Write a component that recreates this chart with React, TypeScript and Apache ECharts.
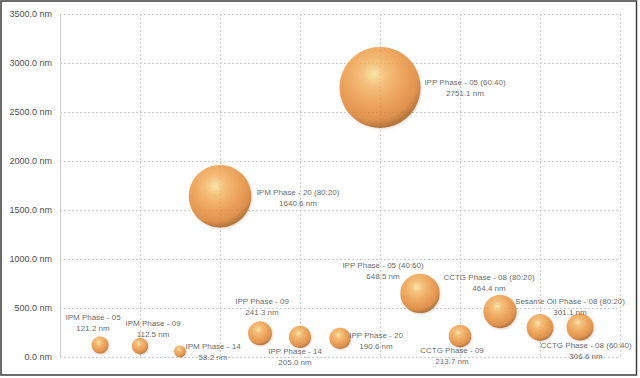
import React, { useEffect, useRef } from "react";
import * as echarts from "echarts";

const names = [
  "IPM Phase - 05",
  "IPM Phase - 09",
  "IPM Phase - 14",
  "IPM Phase - 20 (80:20)",
  "IPP Phase - 09",
  "IPP Phase - 14",
  "IPP Phase - 20",
  "IPP Phase - 05 (60:40)",
  "IPP Phase - 05 (40:60)",
  "CCTG Phase - 09",
  "CCTG Phase - 08 (80:20)",
  "Sesame Oil Phase - 08 (80:20)",
  "CCTG Phase - 08 (60:40)",
];
const xPos = [1, 2, 3, 4, 5, 6, 7, 8, 9, 10, 11, 12, 13];
const sizesNm = [121.2, 112.5, 58.2, 1640.6, 241.3, 205.0, 190.6, 2751.1, 648.5, 213.7, 464.4, 301.1, 306.6];

const yTicks = { min: 0, max: 3500, interval: 500 };
const xTicks = { min: 0, max: 14, interval: 2 };

// label offsets (px) from bubble centre, purely presentational
const labelOffsets: [number, number][] = [
  [-7, -22],
  [13, -17],
  [33, 1],
  [78, 2],
  [2, -26],
  [-5, 20],
  [36, 3],
  [85, 1],
  [-37, -22],
  [-8, 20],
  [-11, -28],
  [30, -20],
  [6, 24],
];

export default function App() {
  const ref = useRef<HTMLDivElement>(null);
  useEffect(() => {
    if (!ref.current) return;
    const chart = echarts.init(ref.current, undefined, { renderer: "svg" });
    const maxV = Math.max(...sizesNm);
    const grad = new echarts.graphic.RadialGradient(0.42, 0.34, 0.66, [
      { offset: 0, color: "#FCE59A" },
      { offset: 0.22, color: "#F6B866" },
      { offset: 0.55, color: "#EE9740" },
      { offset: 0.85, color: "#DC802E" },
      { offset: 1, color: "#A85C1A" },
    ]);
    const data = names.map((n, i) => ({
      name: n,
      value: [xPos[i], sizesNm[i]],
      label: {
        offset: labelOffsets[i],
      },
    }));
    chart.setOption({
      animation: false,
      grid: { left: 60, right: 20, top: 14, bottom: 21, containLabel: false },
      xAxis: {
        type: "value",
        min: xTicks.min,
        max: xTicks.max,
        interval: xTicks.interval,
        axisLabel: { show: false },
        axisTick: { show: false },
        axisLine: { show: false },
        splitLine: { show: true, lineStyle: { color: "#cdcdcd", type: [2, 2], width: 1 } },
      },
      yAxis: {
        type: "value",
        min: yTicks.min,
        max: yTicks.max,
        interval: yTicks.interval,
        axisLine: { show: true, lineStyle: { color: "#cccccc", width: 1 } },
        axisTick: { show: false },
        axisLabel: {
          formatter: (v: number) => v.toFixed(1) + " nm",
          color: "#505050",
          fontSize: 9,
          fontFamily: "Liberation Sans",
          margin: 8,
        },
        splitLine: { show: true, lineStyle: { color: "#cdcdcd", type: [2, 2], width: 1 } },
      },
      series: [
        {
          type: "scatter",
          data,
          symbolSize: (val: number[]) => 81 * Math.sqrt(val[1] / maxV),
          itemStyle: {
            color: grad,
            shadowBlur: 2,
            shadowColor: "rgba(90,50,10,0.25)",
            shadowOffsetX: 1,
            shadowOffsetY: 1,
          },
          label: {
            show: true,
            position: "inside",
            align: "center",
            verticalAlign: "middle",
            formatter: (p: any) => `${p.name}\n${p.value[1].toFixed(1)} nm`,
            fontSize: 8,
            lineHeight: 11,
            color: "#404040",
            fontFamily: "Liberation Sans",
          },
          emphasis: { disabled: true },
        },
      ],
      graphic: [
        {
          type: "rect",
          shape: { x: 1, y: 1, width: 635.5, height: 374 },
          style: { fill: "none", stroke: "#3c3c3c", lineWidth: 1.5 },
          silent: true,
        },
      ],
    });
    return () => chart.dispose();
  }, []);
  return (
    <div
      ref={ref}
      style={{ position: "absolute", left: 0, top: 0, width: 640, height: 378, background: "#fff" }}
    />
  );
}
